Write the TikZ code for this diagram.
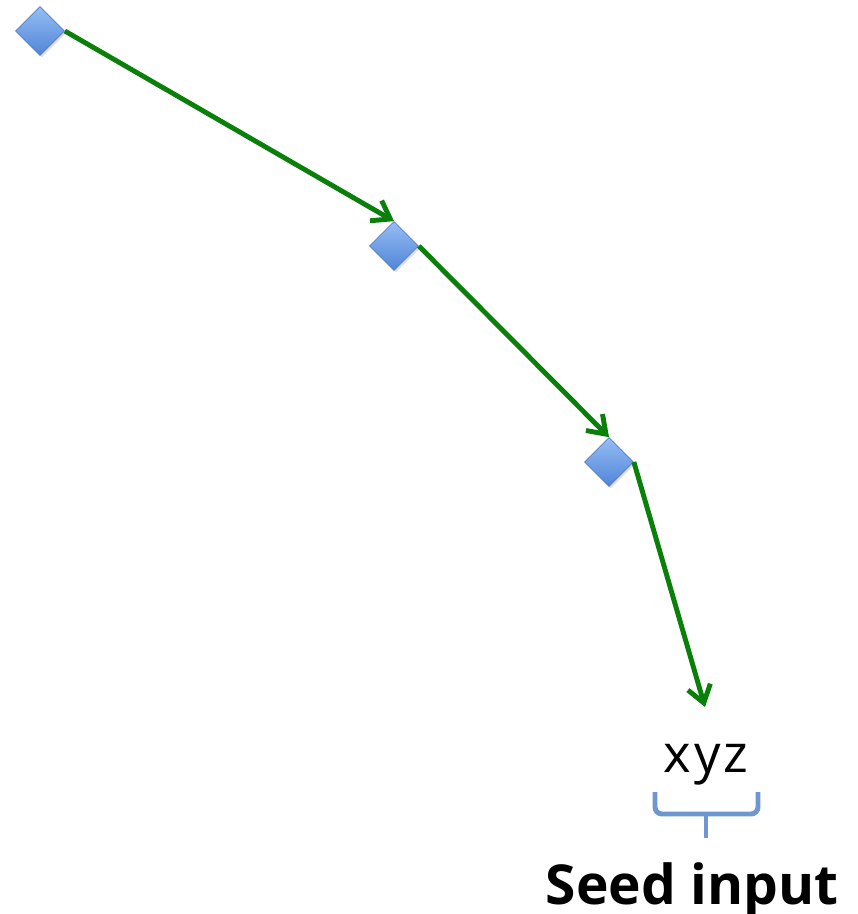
\documentclass[tikz,border=0pt]{standalone}
\usepackage{fontspec}
\setmainfont{Open Sans}
\newfontfamily\spacedfont[LetterSpace=6]{Open Sans}
\usetikzlibrary{arrows.meta,shapes.geometric,shadows}

\definecolor{seedgreen}{RGB}{10,128,10}
\definecolor{gemtop}{RGB}{150,190,245}
\definecolor{gembottom}{RGB}{80,132,215}
\definecolor{gemedge}{RGB}{85,125,195}
\definecolor{bracecol}{RGB}{110,150,208}

\begin{document}
\begin{tikzpicture}[x=0.03cm,y=-0.03cm,
		gem/.style={diamond,draw=gemedge,line width=0.6pt,top color=gemtop,bottom color=gembottom,
			minimum size=1.47cm,inner sep=0pt,drop shadow={opacity=0.25,shadow xshift=0.5mm,shadow yshift=-0.6mm}},
		hop/.style={draw=seedgreen,line width=4.2pt,-{Straight Barb[length=5mm,width=7mm]}}]
			
			\useasboundingbox (0,0) rectangle (857,914);
			
			% Vertices
			\node[gem] (A) at (40,31) {};
			\node[gem] (B) at (394,246) {};
			\node[gem] (C) at (609,462) {};
			\coordinate (D) at (705,707);
			
			% Labels
			\node[anchor=base,inner sep=0pt,font=\fontsize{45}{50}\spacedfont] (xyz) at (706,772) {xyz};
			\node[anchor=base,inner sep=0pt,font=\fontsize{47}{54}\selectfont\bfseries] (seed) at (692,904) {Seed input};
			
			% Brace
			\draw[bracecol,line width=4.2pt,rounded corners=6pt] (655,792) -- (655,814) -- (758,814) -- (758,792);
			\draw[bracecol,line width=4.2pt] (706,812) -- (706,838);
			
			% Edges
			\draw[hop] (A.east) -- (B.north);
			\draw[hop] (B.east) -- (C.north);
			\draw[hop] (C.east) -- (D);
			
		\end{tikzpicture}
\end{document}
